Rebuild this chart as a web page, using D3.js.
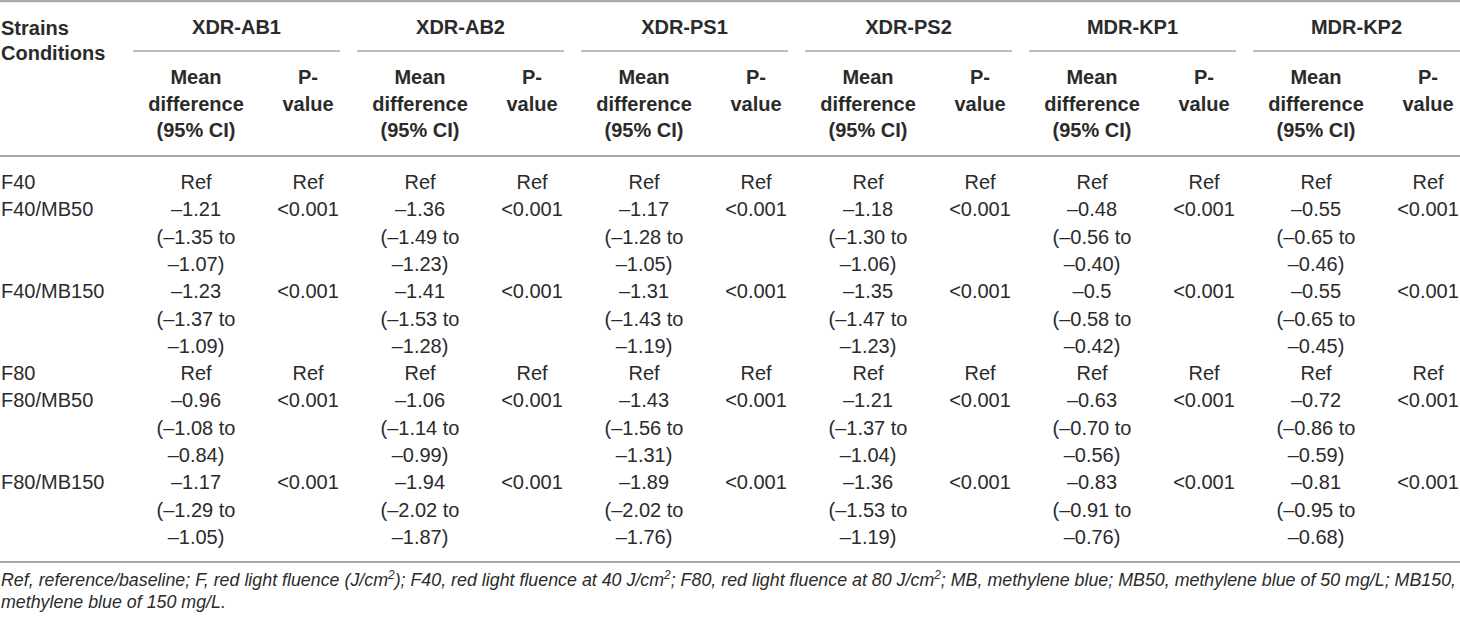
<!DOCTYPE html>
<html>
<head>
<meta charset="utf-8">
<script src="https://cdn.jsdelivr.net/npm/d3@7"></script>
<style>
  body { margin: 0; background: #fff; }
  svg { display: block; font-family: "Liberation Sans", Arial, Helvetica, sans-serif; }
</style>
</head>
<body>
<svg id="table"></svg>
<script>
// strains (column groups) and conditions (rows)
const strains = ["XDR-AB1", "XDR-AB2", "XDR-PS1", "XDR-PS2", "MDR-KP1", "MDR-KP2"];
const conditions = ["F40", "F40/MB50", "F40/MB150", "F80", "F80/MB50", "F80/MB150"];

// mean difference per strain, one entry per condition (null = reference)
const meanDiff = [
  [null, "–1.21", "–1.23", null, "–0.96", "–1.17"],
  [null, "–1.36", "–1.41", null, "–1.06", "–1.94"],
  [null, "–1.17", "–1.31", null, "–1.43", "–1.89"],
  [null, "–1.18", "–1.35", null, "–1.21", "–1.36"],
  [null, "–0.48", "–0.5",  null, "–0.63", "–0.83"],
  [null, "–0.55", "–0.55", null, "–0.72", "–0.81"]
];
const ciLow = [
  [null, "–1.35", "–1.37", null, "–1.08", "–1.29"],
  [null, "–1.49", "–1.53", null, "–1.14", "–2.02"],
  [null, "–1.28", "–1.43", null, "–1.56", "–2.02"],
  [null, "–1.30", "–1.47", null, "–1.37", "–1.53"],
  [null, "–0.56", "–0.58", null, "–0.70", "–0.91"],
  [null, "–0.65", "–0.65", null, "–0.86", "–0.95"]
];
const ciHigh = [
  [null, "–1.07", "–1.09", null, "–0.84", "–1.05"],
  [null, "–1.23", "–1.28", null, "–0.99", "–1.87"],
  [null, "–1.05", "–1.19", null, "–1.31", "–1.76"],
  [null, "–1.06", "–1.23", null, "–1.04", "–1.19"],
  [null, "–0.40", "–0.42", null, "–0.56", "–0.76"],
  [null, "–0.46", "–0.45", null, "–0.59", "–0.68"]
];
const pValues = ["Ref", "<0.001", "<0.001", "Ref", "<0.001", "<0.001"];

// footnote pieces, true = superscript
const footnote = [
  [["Ref, reference/baseline; F, red light fluence (J/cm"], ["2", true], ["); F40, red light fluence at 40 J/cm"], ["2", true],
   ["; F80, red light fluence at 80 J/cm"], ["2", true], ["; MB, methylene blue; MB50, methylene blue of 50 mg/L; MB150,"]],
  [["methylene blue of 150 mg/L."]]
];

var dimensions = { width: 1460, height: 619 }

var svg = d3.select("#table")
            .attr("width", dimensions.width)
            .attr("height", dimensions.height)

const textColor = "#2b2b2b"
const lineColor = "#a8a8a8"

// x: group index -> column centre
var meanX = d3.scaleLinear().domain([0, strains.length - 1]).range([196, 1316])
var pX = d3.scaleLinear().domain([0, strains.length - 1]).range([308, 1428])
var groupX = d3.scaleLinear().domain([0, strains.length - 1]).range([236.5, 1356.5])

// line index -> baseline of body text
var lineY = d3.scaleLinear().domain([0, 13]).range([189, 544])

// rules
svg.append("line").attr("x1", 0).attr("x2", dimensions.width).attr("y1", 1).attr("y2", 1)
   .attr("stroke", lineColor).attr("stroke-width", 2.5)
svg.append("line").attr("x1", 0).attr("x2", dimensions.width).attr("y1", 156).attr("y2", 156)
   .attr("stroke", lineColor).attr("stroke-width", 2)
svg.append("line").attr("x1", 0).attr("x2", dimensions.width).attr("y1", 562).attr("y2", 562)
   .attr("stroke", lineColor).attr("stroke-width", 2)

svg.append("g").selectAll("line")
   .data(strains)
   .enter()
   .append("line")
   .attr("x1", (d, i) => groupX(i) - 103.5)
   .attr("x2", (d, i) => groupX(i) + 103.5)
   .attr("y1", 51).attr("y2", 51)
   .attr("stroke", lineColor)
   .attr("stroke-width", 1.6)

// header
var header = svg.append("g")
                .attr("fill", textColor)
                .style("font-size", "20px")
                .style("font-weight", "bold")

header.append("text").attr("x", 1).attr("y", 35).text("Strains")
header.append("text").attr("x", 1).attr("y", 60).text("Conditions")

header.selectAll(".strain")
      .data(strains)
      .enter()
      .append("text")
      .attr("class", "strain")
      .attr("x", (d, i) => groupX(i))
      .attr("y", 34)
      .attr("text-anchor", "middle")
      .text(d => d)

const meanHead = ["Mean", "difference", "(95% CI)"]
const pHead = ["P-", "value"]
strains.forEach((s, i) => {
    meanHead.forEach((t, j) => {
        header.append("text").attr("x", meanX(i)).attr("y", 84 + j * 26.5)
              .attr("text-anchor", "middle").text(t)
    })
    pHead.forEach((t, j) => {
        header.append("text").attr("x", pX(i)).attr("y", 84 + j * 26.5)
              .attr("text-anchor", "middle").text(t)
    })
})

// body
var body = svg.append("g")
              .attr("fill", textColor)
              .style("font-size", "20px")

var rowStart = []
var line = 0
conditions.forEach((c, r) => {
    rowStart.push(line)
    line += meanDiff[0][r] === null ? 1 : 3
})

body.selectAll(".cond")
    .data(conditions)
    .enter()
    .append("text")
    .attr("class", "cond")
    .attr("x", 1)
    .attr("y", (d, r) => lineY(rowStart[r]))
    .text(d => d)

strains.forEach((s, i) => {
    conditions.forEach((c, r) => {
        var y0 = rowStart[r]
        var m = meanDiff[i][r]
        var lines = m === null ? ["Ref"] : [m, "(" + ciLow[i][r] + " to", ciHigh[i][r] + ")"]
        lines.forEach((t, k) => {
            body.append("text").attr("x", meanX(i)).attr("y", lineY(y0 + k))
                .attr("text-anchor", "middle").text(t)
        })
        body.append("text").attr("x", pX(i)).attr("y", lineY(y0))
            .attr("text-anchor", "middle").text(pValues[r])
    })
})

// footnote
var note = svg.append("g")
              .attr("fill", textColor)
              .style("font-size", "18px")
              .style("font-style", "italic")

var noteLines = []
footnote.forEach((parts, j) => {
    var t = note.append("text").attr("x", 1).attr("y", 586 + j * 21.5)
    var shifted = false
    parts.forEach(p => {
        var ts = t.append("tspan").text(p[0])
        if (p[1]) {
            ts.attr("dy", -7).style("font-size", "12px")
            shifted = true
        } else if (shifted) {
            ts.attr("dy", 7)
            shifted = false
        }
    })
    noteLines.push(t)
})

// the source font is narrower; squeeze the footnote so line one ends at the right edge
var w = noteLines[0].node().getComputedTextLength()
var k = Math.min(1, 1456 / w)
noteLines.forEach(t => {
    var y = +t.attr("y")
    t.attr("x", 0).attr("y", 0)
     .attr("transform", `translate(1, ${y}) scale(${k}, 1)`)
})
</script>
</body>
</html>
